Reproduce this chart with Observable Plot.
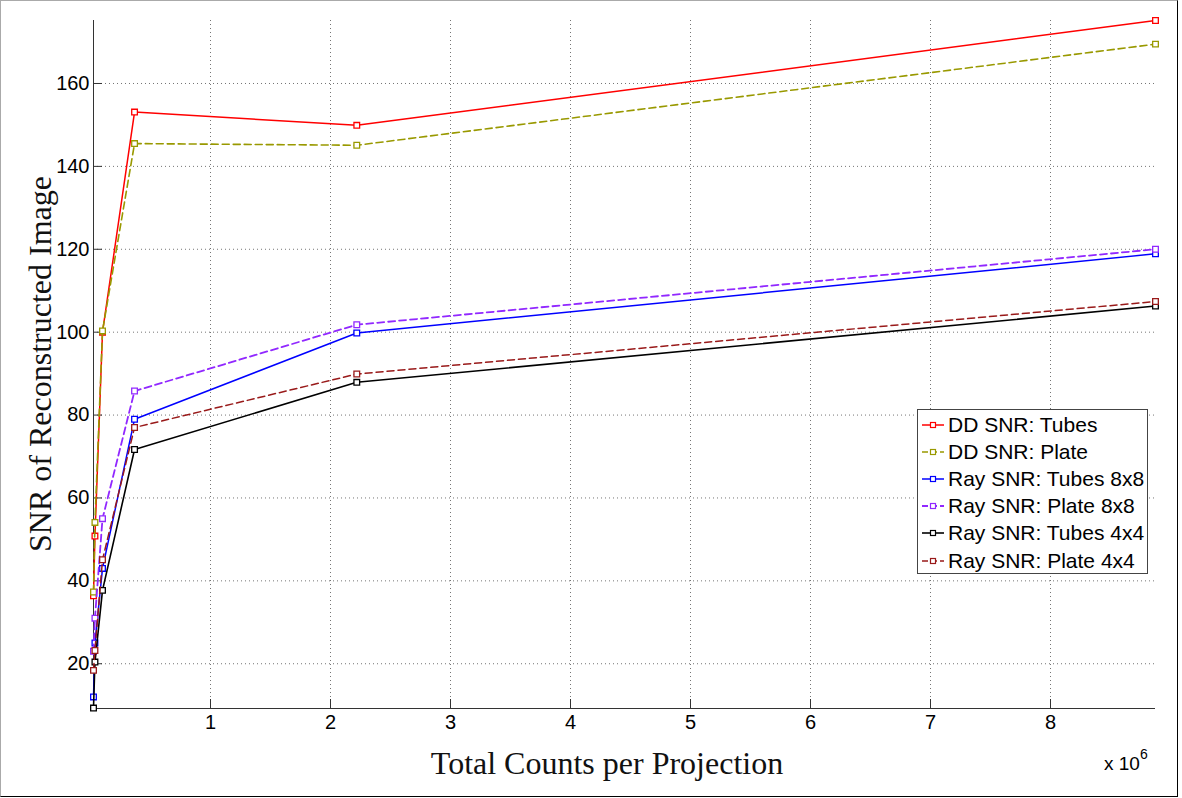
<!DOCTYPE html>
<html>
<head>
<meta charset="utf-8">
<script src="https://cdn.jsdelivr.net/npm/d3@7"></script>
<script src="https://cdn.jsdelivr.net/npm/@observablehq/plot@0.6"></script>
<style>
  html, body { margin: 0; padding: 0; background: #fff; }
  #fig { position: relative; width: 1182px; height: 798px; overflow: hidden; }
  #fig > svg { position: absolute; left: 0; top: 0; }
  .border { position: absolute; left: 0; top: 0; width: 1176px; height: 795px;
    border-top: 1px solid #aaa; border-left: 1px solid #aaa; border-right: 1px solid #000; border-bottom: 1px solid #000; }
  .xlabel { position: absolute; left: 307px; width: 600px; top: 745px; text-align: center;
    font-family: "Liberation Serif", "Times New Roman", serif; font-size: 32px; color: #111; white-space: nowrap; }
  .ylabel { position: absolute; left: 40px; top: 364px; transform: translate(-50%, -50%) rotate(-90deg);
    font-family: "Liberation Serif", "Times New Roman", serif; font-size: 32px; color: #111; white-space: nowrap; }
  .exp { position: absolute; left: 1104px; top: 750px; font-family: "Liberation Sans", Arial, sans-serif; font-size: 19px; color: #000; }
  .exp sup { font-size: 14px; position: relative; top: -4px; }
  .legend { position: absolute; left: 917px; top: 409px; width: 229px; height: 163px; border: 1px solid #444; background: #fff;
    font-family: "Liberation Sans", Arial, sans-serif; font-size: 21px; color: #000; }
  .legend .row { position: absolute; left: 2px; height: 27px; display: flex; align-items: center; white-space: nowrap; }
  .legend svg { display: block; margin-right: 2px; }
</style>
</head>
<body>
<div id="fig"></div>
<script>
// ---------- data ----------
const xCounts = [25000, 37000, 100000, 367000, 2219000, 8875000];
const seriesNames = ["DD SNR: Tubes", "DD SNR: Plate", "Ray SNR: Tubes 8x8", "Ray SNR: Plate 8x8", "Ray SNR: Tubes 4x4", "Ray SNR: Plate 4x4"];
const ddTubes   = [36.4, 50.8, 100.0, 153.1, 149.9, 175.2];
const ddPlate   = [37.3, 54.1, 100.3, 145.5, 145.1, 169.5];
const rayTubes8 = [12.0, 25.0, 43.0, 79.0, 99.8, 118.9];
const rayPlate8 = [23.0, 31.0, 55.0, 85.8, 101.8, 120.0];
const rayTubes4 = [9.3, 20.4, 37.7, 71.7, 87.9, 106.3];
const rayPlate4 = [18.4, 23.2, 45.1, 77.0, 89.9, 107.4];
const xTicks = [1e6, 2e6, 3e6, 4e6, 5e6, 6e6, 7e6, 8e6];
const yTicks = [20, 40, 60, 80, 100, 120, 140, 160];
const xLabel = "Total Counts per Projection";
const yLabel = "SNR of Reconstructed Image";

const seriesValues = [ddTubes, ddPlate, rayTubes8, rayPlate8, rayTubes4, rayPlate4];
const styles = [
  {stroke: "#ff0000", dash: null,  width: 1.5},
  {stroke: "#999900", dash: "7,4", width: 1.6},
  {stroke: "#0000ff", dash: null,  width: 1.5},
  {stroke: "#9128ff", dash: "7,4", width: 1.8},
  {stroke: "#000000", dash: null,  width: 1.6},
  {stroke: "#991a1a", dash: "7,4", width: 1.5}
];

const series = seriesNames.map((name, k) => ({
  name, style: styles[k],
  rows: xCounts.map((x, i) => ({x, y: seriesValues[k][i], name}))
}));

const xDomain = [xCounts[0], xCounts[xCounts.length - 1]];
const allY = seriesValues.flat();
const yDomain = [d3.min(allY) - 0.1, d3.max(allY)];

const marks = [
  Plot.gridX(xTicks, {stroke: "#666", strokeOpacity: 0.9, strokeDasharray: "1,3"}),
  Plot.gridY(yTicks, {stroke: "#666", strokeOpacity: 0.9, strokeDasharray: "1,3"}),
  Plot.ruleX([xDomain[0]], {stroke: "#333", strokeWidth: 1}),
  Plot.ruleY([yDomain[0]], {stroke: "#333", strokeWidth: 1}),
  Plot.axisX(xTicks, {tickSize: -9, tickFormat: () => "", label: null, stroke: "#333"}),
  Plot.axisX(xTicks, {tickSize: 0, tickPadding: 6, tickFormat: d => String(d / 1e6), label: null, fill: "#000"}),
  Plot.axisY(yTicks, {tickSize: -9, tickFormat: () => "", label: null, stroke: "#333"}),
  Plot.axisY(yTicks, {tickSize: 0, tickPadding: 4, tickFormat: d => String(d), label: null, fill: "#000"})
];
for (const s of series) {
  marks.push(Plot.line(s.rows, {x: "x", y: "y", stroke: s.style.stroke, strokeWidth: s.style.width,
    strokeDasharray: s.style.dash, curve: "linear"}));
  marks.push(Plot.dot(s.rows, {x: "x", y: "y", symbol: "square", r: 3.2, fill: "white",
    stroke: s.style.stroke, strokeWidth: 1.3}));
}

const chart = Plot.plot({
  width: 1182,
  height: 798,
  marginLeft: 93,
  marginRight: 27,
  marginTop: 20,
  marginBottom: 90,
  style: {fontFamily: "'Liberation Sans', Arial, sans-serif", fontSize: "20px", background: "transparent", color: "#000"},
  x: {type: "linear", domain: xDomain},
  y: {type: "linear", domain: yDomain},
  marks
});

const fig = document.getElementById("fig");
fig.appendChild(chart);

const xl = document.createElement("div");
xl.className = "xlabel"; xl.textContent = xLabel; fig.appendChild(xl);
const yl = document.createElement("div");
yl.className = "ylabel"; yl.textContent = yLabel; fig.appendChild(yl);
const ex = document.createElement("div");
ex.className = "exp"; ex.innerHTML = "x 10<sup>6</sup>"; fig.appendChild(ex);

// legend
const lg = document.createElement("div");
lg.className = "legend";
series.forEach((s, k) => {
  const row = document.createElement("div");
  row.className = "row";
  row.style.top = (1 + k * 27.2) + "px";
  const ns = "http://www.w3.org/2000/svg";
  const sv = document.createElementNS(ns, "svg");
  sv.setAttribute("width", 26); sv.setAttribute("height", 12);
  const ln = document.createElementNS(ns, "line");
  ln.setAttribute("x1", 2); ln.setAttribute("x2", 24); ln.setAttribute("y1", 6); ln.setAttribute("y2", 6);
  ln.setAttribute("stroke", s.style.stroke); ln.setAttribute("stroke-width", s.style.width);
  if (s.style.dash) ln.setAttribute("stroke-dasharray", "6,3");
  sv.appendChild(ln);
  const rc = document.createElementNS(ns, "rect");
  rc.setAttribute("x", 10.5); rc.setAttribute("y", 3.5); rc.setAttribute("width", 5); rc.setAttribute("height", 5);
  rc.setAttribute("fill", "white"); rc.setAttribute("stroke", s.style.stroke); rc.setAttribute("stroke-width", 1.2);
  sv.appendChild(rc);
  row.appendChild(sv);
  const tx = document.createElement("span");
  tx.textContent = s.name;
  row.appendChild(tx);
  lg.appendChild(row);
});
fig.appendChild(lg);

const bd = document.createElement("div");
bd.className = "border"; fig.appendChild(bd);
</script>
</body>
</html>
